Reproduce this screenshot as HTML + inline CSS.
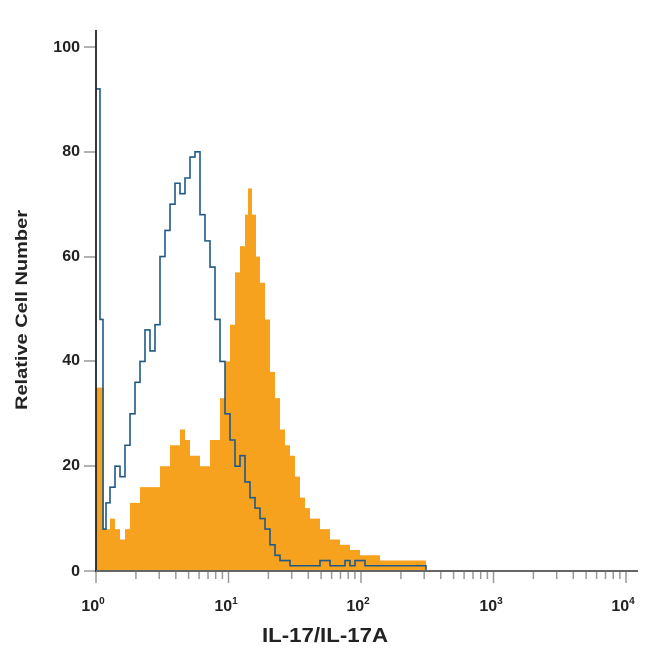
<!DOCTYPE html>
<html><head><meta charset="utf-8">
<style>
html,body{margin:0;padding:0;background:#fff;}
svg{display:block;font-family:"Liberation Sans",Arial,sans-serif;}
</style></head>
<body>
<svg id="s" width="650" height="650" viewBox="0 0 650 650" xmlns="http://www.w3.org/2000/svg">
<path id="orange" fill="#f7a21f" stroke="none" d=""/>
<path id="blue" fill="none" stroke="#1f5a86" stroke-width="1.6" d=""/>
<g id="ticks" stroke="#999" stroke-width="1.5"></g>
<line x1="96" y1="30" x2="96" y2="572" stroke="#222" stroke-width="1.8"/>
<line x1="96" y1="571" x2="638" y2="571" stroke="#666" stroke-width="2"/>
<g font-weight="bold" font-size="16" fill="#222" text-anchor="end">
<text x="80" y="52">100</text>
<text x="80" y="156">80</text>
<text x="80" y="261">60</text>
<text x="80" y="365">40</text>
<text x="80" y="470">20</text>
<text x="80" y="576">0</text>
</g>
<g font-weight="bold" font-size="16" fill="#222" text-anchor="middle">
<text x="93" y="611">10<tspan font-size="10" dy="-7">0</tspan></text>
<text x="226" y="611">10<tspan font-size="10" dy="-7">1</tspan></text>
<text x="358" y="611">10<tspan font-size="10" dy="-7">2</tspan></text>
<text x="491" y="611">10<tspan font-size="10" dy="-7">3</tspan></text>
<text x="623" y="611">10<tspan font-size="10" dy="-7">4</tspan></text>
</g>
<text x="325" y="642" font-weight="bold" font-size="20" fill="#222" text-anchor="middle" textLength="126" lengthAdjust="spacingAndGlyphs">IL-17/IL-17A</text>
<text transform="translate(27,310) rotate(-90)" font-weight="bold" font-size="17" fill="#222" text-anchor="middle" textLength="200" lengthAdjust="spacingAndGlyphs">Relative Cell Number</text>
</svg>
<script>
var Y=function(v){return 571-v*5.24;};
function step(pts,close){
 var d="M"+pts[0][0]+","+(close?571:Y(pts[0][1]));
 if(close)d+=" L"+pts[0][0]+","+Y(pts[0][1]);
 for(var i=1;i<pts.length;i++){d+=" H"+pts[i][0]+" V"+Y(pts[i][1]);}
 if(close)d+=" V571 Z";
 return d;
}
var o=[[96,35],[104,8],[110,10],[115,8],[120,6],[125,8],[130,13],[140,16],[150,16],[160,20],[170,24],[180,27],[185,25],[190,22],[200,20],[210,25],[220,33],[225,40],[230,47],[235,57],[240,62],[245,68],[248,73],[252,68],[256,60],[260,55],[265,48],[270,38],[275,33],[280,27],[285,24],[290,22],[295,18],[300,14],[305,12],[310,10],[320,8],[330,6],[340,5],[350,4],[360,3],[370,3],[380,2],[400,2],[420,2],[426,0]];
var b=[[96,92],[100,48],[103,8],[106,13],[110,16],[115,20],[120,18],[125,24],[130,30],[135,36],[140,40],[145,46],[150,42],[155,47],[160,60],[165,65],[170,70],[175,74],[180,72],[185,75],[190,79],[195,80],[200,68],[205,63],[210,58],[215,48],[220,40],[225,30],[230,25],[235,20],[240,22],[245,17],[250,14],[255,12],[260,10],[265,8],[270,5],[275,3],[280,2],[290,1],[310,1],[320,2],[330,1],[345,2],[350,1],[355,2],[365,1],[420,1],[426,0],[430,0]];
document.getElementById("orange").setAttribute("d",step(o,true));
document.getElementById("blue").setAttribute("d",step(b,false));
var g=document.getElementById("ticks"),h="";
[47,152,257,361,466,571].forEach(function(y){h+='<line x1="84" y1="'+y+'" x2="96" y2="'+y+'"/>';});
for(var d=0;d<4;d++)for(var k=1;k<=10;k++){
 if(k==1&&d>0)continue;
 var x=96+132.5*(d+Math.log10(k));
 var len=(k==1||k==10)?12:8;
 h+='<line x1="'+x.toFixed(1)+'" y1="571" x2="'+x.toFixed(1)+'" y2="'+(571+len)+'"/>';
}
g.innerHTML=h;
</script>
</body></html>
